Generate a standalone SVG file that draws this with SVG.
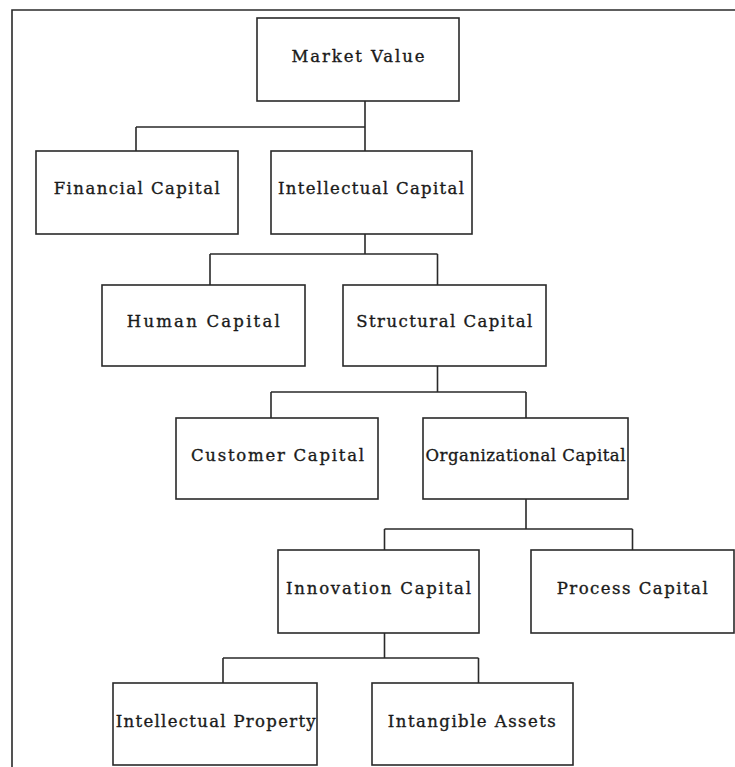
<svg xmlns="http://www.w3.org/2000/svg" width="735" height="767" viewBox="0 0 735 767">
  <style>
    .box { fill: #ffffff; stroke: #2a2a2a; stroke-width: 1.6; }
    .lbl { font-family: "DejaVu Serif", "Liberation Serif", serif; font-size: 16.5px; fill: #1a1a1a; stroke: #1a1a1a; stroke-width: 0.35; text-anchor: middle; }
    .wire { fill: none; stroke: #2a2a2a; stroke-width: 1.6; }
    .frame { fill: none; stroke: #2a2a2a; stroke-width: 1.6; }
  </style>
  <rect width="735" height="767" fill="#ffffff"/>

  <!-- page frame (top and left edges) -->
  <path class="frame" d="M12,767 V10 H735"/>

  <!-- connectors -->
  <g id="connectors">
    <path class="wire" d="M365,101 V151 M136,127 H365 M136,127 V151"/>
    <path class="wire" d="M365,234 V254 M210,254 H437.5 M210,254 V285 M437.5,254 V285"/>
    <path class="wire" d="M437.5,366 V392 M271,392 H526 M271,392 V418 M526,392 V418"/>
    <path class="wire" d="M526,499 V529 M384.5,529 H632.5 M384.5,529 V550 M632.5,529 V550"/>
    <path class="wire" d="M384.5,633 V658 M223,658 H478.5 M223,658 V683 M478.5,658 V683"/>
  </g>

  <g id="market-value">
    <rect class="box" x="257" y="18" width="202" height="83"/>
    <text class="lbl" x="358" y="62" textLength="133" lengthAdjust="spacing">Market Value</text>
  </g>
  <g id="financial-capital">
    <rect class="box" x="36" y="151" width="202" height="83"/>
    <text class="lbl" x="136.7" y="194" textLength="166" lengthAdjust="spacing">Financial Capital</text>
  </g>
  <g id="intellectual-capital">
    <rect class="box" x="271" y="151" width="201" height="83"/>
    <text class="lbl" x="371" y="194" textLength="186" lengthAdjust="spacing">Intellectual Capital</text>
  </g>
  <g id="human-capital">
    <rect class="box" x="102" y="285" width="203" height="81"/>
    <text class="lbl" x="203.3" y="327" textLength="153" lengthAdjust="spacing">Human Capital</text>
  </g>
  <g id="structural-capital">
    <rect class="box" x="343" y="285" width="203" height="81"/>
    <text class="lbl" x="444.2" y="327" textLength="176" lengthAdjust="spacing">Structural Capital</text>
  </g>
  <g id="customer-capital">
    <rect class="box" x="176" y="418" width="202" height="81"/>
    <text class="lbl" x="277.5" y="461" textLength="173" lengthAdjust="spacing">Customer Capital</text>
  </g>
  <g id="organizational-capital">
    <rect class="box" x="423" y="418" width="205" height="81"/>
    <text class="lbl" x="525.5" y="461" textLength="200" lengthAdjust="spacing">Organizational Capital</text>
  </g>
  <g id="innovation-capital">
    <rect class="box" x="278" y="550" width="201" height="83"/>
    <text class="lbl" x="378.5" y="593.5" textLength="185" lengthAdjust="spacing">Innovation Capital</text>
  </g>
  <g id="process-capital">
    <rect class="box" x="531" y="550" width="203" height="83"/>
    <text class="lbl" x="632.2" y="593.5" textLength="151" lengthAdjust="spacing">Process Capital</text>
  </g>
  <g id="intellectual-property">
    <rect class="box" x="113" y="683" width="204" height="82"/>
    <text class="lbl" x="215.7" y="727" textLength="200" lengthAdjust="spacing">Intellectual Property</text>
  </g>
  <g id="intangible-assets">
    <rect class="box" x="372" y="683" width="201" height="82"/>
    <text class="lbl" x="471.8" y="727" textLength="168" lengthAdjust="spacing">Intangible Assets</text>
  </g>
</svg>
